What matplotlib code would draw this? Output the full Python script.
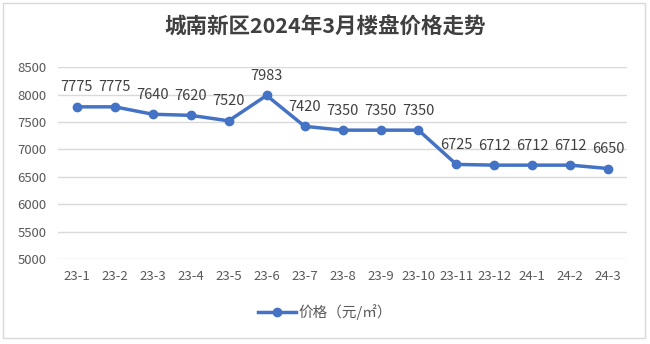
import matplotlib.pyplot as plt
from matplotlib.patches import Rectangle

plt.rcParams['font.family'] = ['Noto Sans CJK SC', 'DejaVu Sans']

months = ['23-1', '23-2', '23-3', '23-4', '23-5', '23-6', '23-7', '23-8',
          '23-9', '23-10', '23-11', '23-12', '24-1', '24-2', '24-3']
prices = [7775, 7775, 7640, 7620, 7520, 7983, 7420, 7350,
          7350, 7350, 6725, 6712, 6712, 6712, 6650]
yticks = list(range(5000, 8501, 500))

fig = plt.figure(figsize=(6.5, 3.44), dpi=100)
ax = fig.add_axes([0.089, 0.247, 0.876, 0.558])

blue = '#4472C4'
x = list(range(len(months)))
line, = ax.plot(x, prices, color=blue, linewidth=2.5, marker='o', markersize=6,
                label='价格（元/㎡）', zorder=3)
for xi, p in zip(x, prices):
    ax.annotate(str(p), (xi, p), xytext=(0, 9), textcoords='offset points',
                ha='center', va='bottom', fontsize=10.5, color='#404040')

ax.set_xlim(-0.5, len(months) - 0.5)
ax.set_ylim(5000, 8500)
ax.set_yticks(yticks)
ax.set_xticks(x)
ax.set_xticklabels(months)
ax.tick_params(length=0, labelsize=9.5, labelcolor='#595959')
ax.tick_params(axis='y', pad=8)
ax.tick_params(axis='x', pad=8)
ax.grid(axis='y', color='#D9D9D9', linewidth=1)
ax.set_axisbelow(True)
for s in ax.spines.values():
    s.set_visible(False)

fig.text(0.5, 0.92, '城南新区2024年3月楼盘价格走势', ha='center', va='center',
         fontsize=15.5, fontweight='bold', color='#404040')

fig.legend(handles=[line], loc='center', bbox_to_anchor=(0.5, 0.093), frameon=False,
           fontsize=10.5, labelcolor='#595959', handlelength=2.6, handletextpad=0.2)

fig.patches.append(Rectangle((0.005, 0.017), 0.988, 0.974, transform=fig.transFigure,
                             fill=False, edgecolor='#D9D9D9', linewidth=1))

fig.savefig('out.png', dpi=100)
